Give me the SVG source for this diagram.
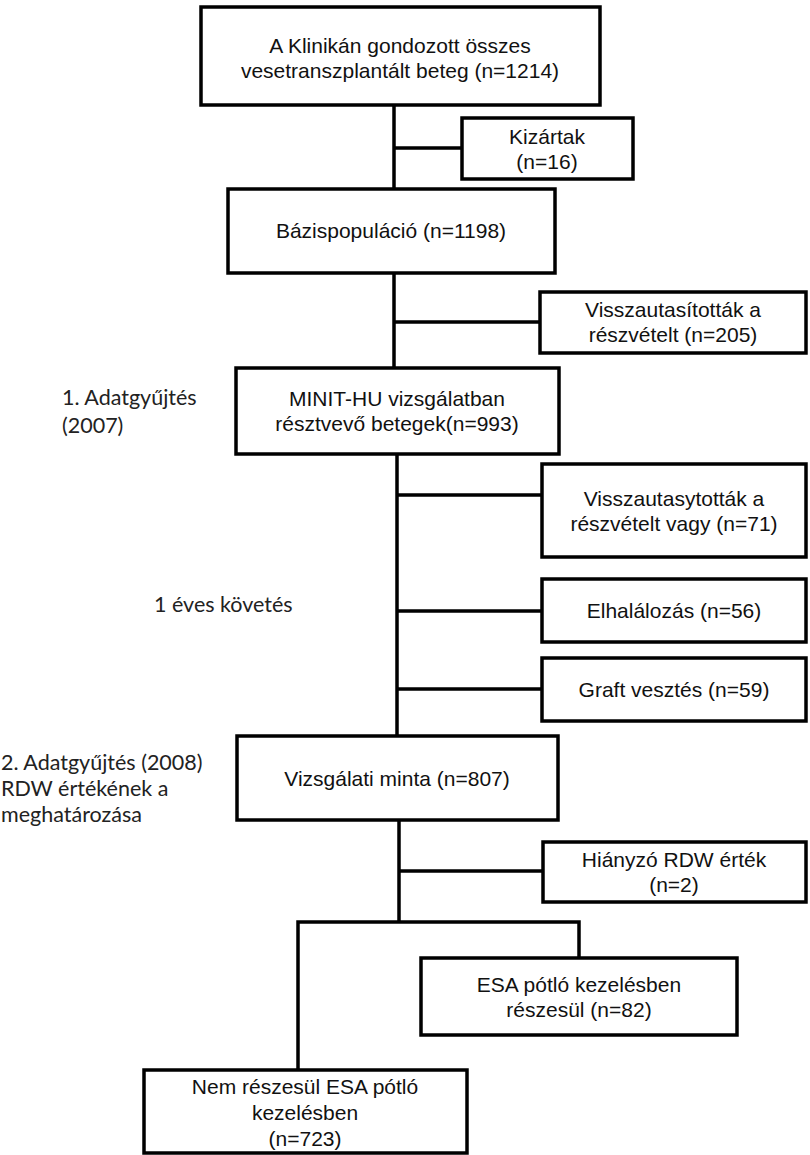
<svg xmlns="http://www.w3.org/2000/svg" width="810" height="1155" viewBox="0 0 810 1155">
<style>
.box{fill:#fff;stroke:#000;stroke-width:3.5}
.t{font-family:"Liberation Sans",Arial,sans-serif;font-size:21px;fill:#111;text-anchor:middle}
.l{font-family:Lato,"Open Sans",sans-serif;font-size:21.5px;fill:#222}
.c{fill:none;stroke:#000;stroke-width:3.5}
</style>
<rect width="810" height="1155" fill="#fff"/>
<g id="connectors">
<path class="c" d="M394,105V189M394,273V368M397,454V736M399,820V922"/>
<path class="c" d="M394,148H462M394,322H540M397,495H542M397,611H542M397,689H542M399,871H543"/>
<path class="c" d="M298,1070V922H579V958"/>
</g>
<g id="n1"><rect class="box" x="201" y="7" width="399" height="98"/><text class="t" x="400" y="53">A Klinikán gondozott összes</text><text class="t" x="400" y="78">vesetranszplantált beteg (n=1214)</text></g>
<g id="n2"><rect class="box" x="462" y="118" width="171" height="61"/><text class="t" x="547" y="144">Kizártak</text><text class="t" x="547" y="169">(n=16)</text></g>
<g id="n3"><rect class="box" x="228" y="189" width="327" height="84"/><text class="t" x="391" y="238">Bázispopuláció (n=1198)</text></g>
<g id="n4"><rect class="box" x="540" y="292" width="266" height="61"/><text class="t" x="673" y="317">Visszautasították a</text><text class="t" x="673" y="342">részvételt (n=205)</text></g>
<g id="n5"><rect class="box" x="236" y="368" width="323" height="86"/><text class="t" x="397" y="406">MINIT-HU vizsgálatban</text><text class="t" x="397" y="431">résztvevő betegek(n=993)</text></g>
<g id="n6"><rect class="box" x="542" y="464" width="264" height="93"/><text class="t" x="674" y="506">Visszautasytották a</text><text class="t" x="674" y="531">részvételt vagy (n=71)</text></g>
<g id="n7"><rect class="box" x="542" y="579" width="264" height="63"/><text class="t" x="674" y="618">Elhalálozás (n=56)</text></g>
<g id="n8"><rect class="box" x="542" y="658" width="264" height="63"/><text class="t" x="674" y="697">Graft vesztés (n=59)</text></g>
<g id="n9"><rect class="box" x="237" y="736" width="321" height="84"/><text class="t" x="397" y="786">Vizsgálati minta (n=807)</text></g>
<g id="n10"><rect class="box" x="543" y="842" width="263" height="60"/><text class="t" x="674" y="867">Hiányzó RDW érték</text><text class="t" x="674" y="892">(n=2)</text></g>
<g id="n11"><rect class="box" x="421" y="958" width="316" height="77"/><text class="t" x="579" y="992">ESA pótló kezelésben</text><text class="t" x="579" y="1017">részesül (n=82)</text></g>
<g id="n12"><rect class="box" x="144" y="1070" width="323" height="83"/><text class="t" x="305" y="1094">Nem részesül ESA pótló</text><text class="t" x="305" y="1120">kezelésben</text><text class="t" x="305" y="1146">(n=723)</text></g>
<g id="labels">
<text class="l" x="62" y="405">1. Adatgyűjtés</text>
<text class="l" x="62" y="433">(2007)</text>
<text class="l" x="154" y="612">1 éves követés</text>
<text class="l" x="1" y="770">2. Adatgyűjtés (2008)</text>
<text class="l" x="1" y="796">RDW értékének a</text>
<text class="l" x="1" y="822">meghatározása</text>
</g>
</svg>
